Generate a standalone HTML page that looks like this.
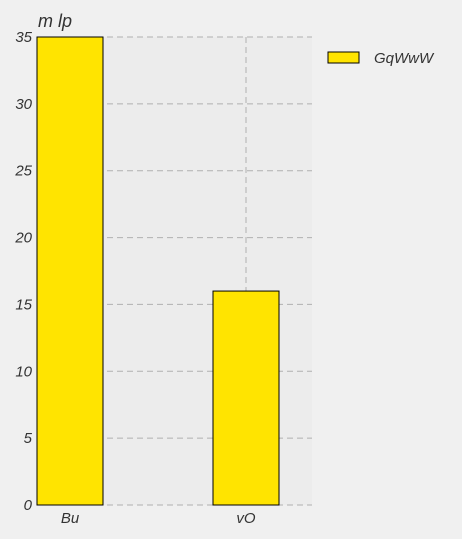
<!DOCTYPE html>
<html><head><meta charset="utf-8"><style>
html,body{margin:0;padding:0;background:#f0f0f0;}
svg{display:block;font-family:"Liberation Sans",sans-serif;font-style:italic;}
</style></head><body>
<svg id="chart" width="462" height="539">
<rect x="37" y="37" width="275" height="468" fill="#ececec"/>
<g id="grid"></g>
<g id="bars"></g>
<g id="labels"></g>
<text x="38" y="27" font-size="18" fill="#333">m lp</text>
<g>
<rect x="328" y="52" width="31" height="11" fill="#ffe400" stroke="#000" stroke-width="1"/>
<text x="374" y="63" font-size="15" fill="#333">GqWwW</text>
</g>
</svg>
<script>
const categories = ["Bu", "vO"];
const values = [35, 16];
const ticks = [0, 5, 10, 15, 20, 25, 30, 35];
const NS = "http://www.w3.org/2000/svg";
const x0 = 37, x1 = 312, y0 = 505, y1 = 37, yMax = 35;
const y = v => y0 - (v / yMax) * (y0 - y1);
const barW = 66;
const xc = i => x0 + barW / 2 + 176 * i;
function mk(tag, attrs, parent) { const e = document.createElementNS(NS, tag); for (const k in attrs) e.setAttribute(k, attrs[k]); parent.appendChild(e); return e; }
const grid = document.getElementById("grid"), bars = document.getElementById("bars"), labels = document.getElementById("labels");
ticks.forEach(t => {
  const l = mk("line", {x1: x0, x2: x1, y1: y(t), y2: y(t), stroke: "#b0b0b0", "stroke-dasharray": "6,4", "stroke-width": 1}, grid);
  
  
  const tx = mk("text", {x: 32, y: y(t) + 5, "text-anchor": "end", "font-size": 15, fill: "#333"}, labels);
  tx.textContent = t;
  
  
});
categories.forEach((c, i) => {
  const g = mk("line", {x1: xc(i), x2: xc(i), y1: y1, y2: y0, stroke: "#b0b0b0", "stroke-dasharray": "6,4", "stroke-width": 1}, grid);
  
  
  const b = mk("rect", {x: xc(i) - barW / 2, y: y(values[i]), width: barW, height: y0 - y(values[i]), fill: "#ffe400", stroke: "#000", "stroke-width": 1}, bars);
  
  
  const tx = mk("text", {x: xc(i), y: 523, "text-anchor": "middle", "font-size": 15, fill: "#333"}, labels);
  tx.textContent = c;
  
  
});
</script>
</body></html>
